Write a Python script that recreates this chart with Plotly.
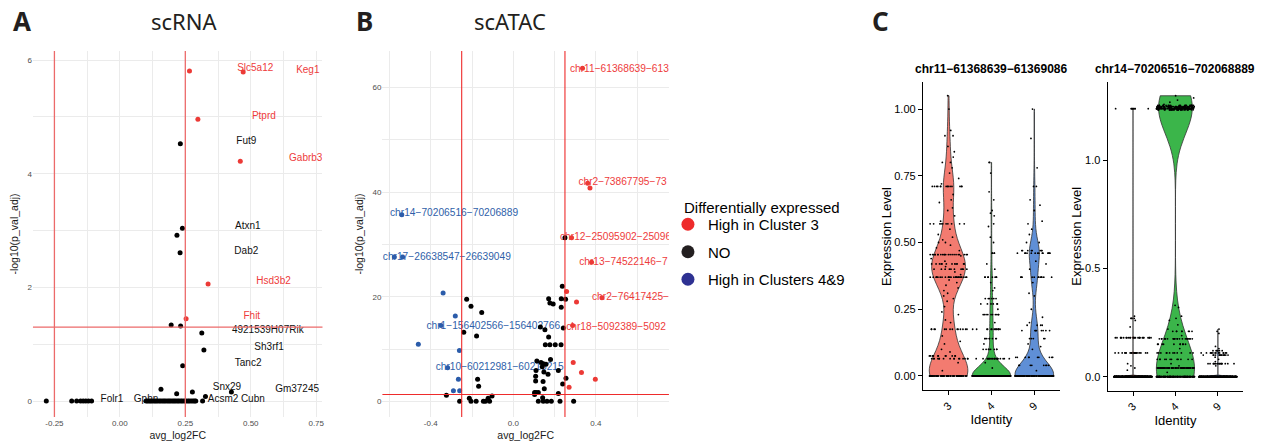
import numpy as np
import plotly.graph_objects as go

W, H = 1264, 446
def PX(px): return px / W
def PY(py): return 1 - py / H

# ---------------- Panel A (scRNA volcano) ----------------
A_UP_X = [0.266, 0.471, 0.298, 0.460, 0.337, 0.253]
A_UP_Y = [5.81, 5.79, 4.96, 4.22, 2.06, 1.45]
A_NO_X = [0.231, 0.239, 0.218, 0.230, 0.196, 0.232, 0.313, 0.321, 0.240, 0.157, 0.217, 0.277,
          0.327, 0.426, -0.281, -0.184, -0.165, -0.150, -0.140, -0.130, -0.120, -0.108,
          0.100, 0.106, 0.112, 0.118, 0.124, 0.131, 0.137, 0.143, 0.150, 0.156, 0.163, 0.169,
          0.175, 0.182, 0.188, 0.194, 0.201, 0.207, 0.213, 0.220, 0.226, 0.233, 0.239, 0.246,
          0.252, 0.259, 0.265, 0.272, 0.279, 0.285, 0.290, 0.316]
A_NO_Y = [4.53, 3.04, 2.92, 2.61, 1.34, 1.32, 1.20, 0.90, 0.62, 0.21, 0.13, 0.16,
          0.08, 0.16, 0, 0, 0, 0, 0, 0, 0, 0,
          0, 0, 0, 0, 0, 0, 0, 0, 0, 0, 0, 0,
          0, 0, 0, 0, 0, 0, 0, 0, 0, 0, 0, 0,
          0, 0, 0, 0, 0, 0, 0, 0]
A_LAB_TEXT = ["Slc5a12", "Keg1", "Ptprd", "Fut9", "Gabrb3", "Atxn1", "Dab2", "Hsd3b2", "Fhit",
              "4921539H07Rik", "Sh3rf1", "Tanc2", "Snx29", "Gm37245", "Folr1", "Gphn", "Acsm2", "Cubn"]
A_LAB_X = [0.517, 0.718, 0.550, 0.483, 0.710, 0.489, 0.483, 0.587, 0.504,
           0.565, 0.570, 0.490, 0.409, 0.677, -0.030, 0.100, 0.394, 0.508]
A_LAB_Y = [5.86, 5.82, 5.00, 4.57, 4.27, 3.08, 2.64, 2.10, 1.49,
           1.24, 0.95, 0.66, 0.24, 0.20, 0.035, 0.035, 0.035, 0.035]
A_LAB_UP = [1, 1, 1, 0, 1, 0, 0, 1, 1, 0, 0, 0, 0, 0, 0, 0, 0, 0]
A_XTICKS = [-0.25, 0.0, 0.25, 0.5, 0.75]
A_XTICKTEXT = ["-0.25", "0.00", "0.25", "0.50", "0.75"]
A_YTICKS = [0, 2, 4, 6]

FC_CUT = 0.25
P_CUT = 1.30

# ---------------- Panel B (scATAC volcano) ----------------
B_UP_X = [0.335, 0.360, 0.371, 0.282, 0.379, 0.429, 0.287, 0.258, 0.306, 0.290, 0.330, 0.397, 0.270]
B_UP_Y = [63.7, 41.7, 40.8, 31.3, 26.6, 19.8, 14.5, 21.0, 19.0, 7.4, 5.5, 4.2, 2.7]
B_DN_X = [-0.540, -0.576, -0.536, -0.340, -0.281, -0.350, -0.460, -0.261, -0.318, -0.266, -0.290, -0.260]
B_DN_Y = [35.7, 27.6, 27.6, 20.7, 16.3, 14.5, 10.9, 9.7, 6.4, 4.2, 2.0, 2.0]
B_NO_X = [-0.324, -0.226, -0.205, -0.153, -0.240, -0.178, -0.173, -0.168,
          -0.213, -0.205, -0.260, -0.180, -0.145, -0.135, -0.122, -0.115, -0.103,
          0.237, 0.250, 0.171, 0.232, 0.253, 0.177, 0.193, 0.232, 0.131, 0.153, 0.242,
          0.171, 0.155, 0.177, 0.203, 0.231, 0.114, 0.134, 0.145, 0.158, 0.180,
          0.110, 0.140, 0.148, 0.168, 0.218, 0.108, 0.108, 0.144, 0.255, 0.239, 0.150,
          0.103, 0.110, 0.121, 0.103, 0.218, 0.121, 0.142, 0.145, 0.163, 0.184, 0.226, 0.292]
B_NO_Y = [1.15, 19.5, 18.2, 17.0, 13.2, 12.5, 4.2, 2.9,
          0.6, 0.0, 0.0, 0.0, 0.0, 0.0, 0.6, 0.0, 1.0,
          22.0, 31.3, 19.6, 19.6, 19.5, 18.8, 18.6, 18.0, 14.2, 13.7, 14.0,
          12.3, 10.8, 10.8, 10.8, 10.8, 7.7, 7.4, 7.2, 7.1, 8.0,
          5.9, 6.6, 5.6, 5.2, 5.9, 4.8, 3.9, 3.8, 4.4, 3.3, 2.4,
          1.7, 1.7, 1.7, 1.3, 1.5, 0.0, 0.7, 0.0, 0.0, 0.0, 0.0, 0.0]
# labels as visible in the figure (those at the right edge are cut by the panel)
B_LAB_TEXT = ["chr11−61368639−613", "chr2−73867795−73", "chr14−70206516−70206889",
              "chr12−25095902−25096", "chr17−26638547−26639049", "chr13−74522146−7",
              "chr2−76417425−", "chr1−156402566−156402766", "chr18−5092389−5092",
              "chr10−60212981−60213215"]
B_LAB_X = [0.274, 0.315, -0.597, 0.226, -0.632, 0.319, 0.381, -0.421, 0.256, -0.376]
B_LAB_Y = [63.5, 41.8, 35.9, 31.3, 27.6, 26.6, 19.8, 14.4, 14.2, 6.4]
B_LAB_UP = [1, 1, 0, 1, 0, 1, 1, 0, 1, 0]
B_XTICKS = [-0.4, 0.0, 0.4]
B_XTICKTEXT = ["-0.4", "0.0", "0.4"]
B_YTICKS = [0, 20, 40, 60]

LEGEND_TITLE = "Differentially expressed"
LEGEND_NAMES = ["High in Cluster 3", "NO", "High in Clusters 4&9"]

# ---------------- Panel C (violins) ----------------
CLUSTERS = ["3", "4", "9"]
C1_TITLE = "chr11−61368639−61369086"
C2_TITLE = "chr14−70206516−702068889"
C_YTITLE = "Expression Level"

C1_C3_LEVELS = [0.00, 0.065, 0.075, 0.175, 0.37, 0.40, 0.42, 0.455, 0.57, 0.71]
C1_C3_COUNTS = [60, 16, 12, 14, 26, 10, 12, 22, 10, 14]
C1_C3_EXTRA = [0.02, 0.05, 0.09, 0.10, 0.12, 0.13, 0.15, 0.20, 0.21, 0.23, 0.24, 0.26, 0.28, 0.29,
               0.30, 0.31, 0.32, 0.33, 0.34, 0.35, 0.36, 0.38, 0.39, 0.41, 0.43, 0.44, 0.45,
               0.47, 0.48, 0.49, 0.50, 0.50, 0.51, 0.52, 0.53, 0.55, 0.58, 0.60, 0.62, 0.63, 0.65,
               0.66, 0.68, 0.72, 0.74, 0.76, 0.78, 0.80, 0.80, 0.82, 0.84, 0.86, 0.90, 0.90, 0.92,
               1.00, 1.05]
C1_C4_LEVELS = [0.00, 0.065, 0.10, 0.14, 0.175, 0.23, 0.27, 0.29, 0.37, 0.46]
C1_C4_COUNTS = [260, 22, 8, 8, 14, 10, 6, 6, 8, 4]
C1_C4_EXTRA = [0.03, 0.05, 0.12, 0.20, 0.25, 0.32, 0.33, 0.35, 0.40, 0.42, 0.50, 0.52, 0.56,
               0.57, 0.60, 0.61, 0.62, 0.66, 0.69, 0.76, 0.80, 0.80]
C1_C9_LEVELS = [0.00, 0.04, 0.07, 0.14, 0.17, 0.19, 0.37, 0.46, 0.47]
C1_C9_COUNTS = [95, 8, 10, 5, 8, 4, 12, 14, 8]
C1_C9_EXTRA = [0.02, 0.10, 0.11, 0.12, 0.20, 0.22, 0.25, 0.30, 0.31, 0.35, 0.40, 0.42, 0.43,
               0.50, 0.50, 0.53, 0.55, 0.57, 0.58, 0.62, 0.64, 0.66, 0.71, 0.71, 0.78, 0.89, 1.00]

C2_C3_LEVELS = [0.00, 0.11, 0.18, 0.27, 1.24]
C2_C3_COUNTS = [420, 22, 26, 4, 9]
C2_C3_EXTRA = [0.03, 0.04, 0.05, 0.06, 0.23, 0.26, 0.28]
C2_C4_LEVELS = [0.00, 0.04, 0.08, 0.11, 0.15, 0.175, 0.21, 1.235, 1.24, 1.245, 1.25, 1.255]
C2_C4_COUNTS = [130, 60, 12, 12, 10, 22, 8, 30, 60, 40, 50, 20]
C2_C4_EXTRA = [0.02, 0.05, 0.06, 0.13, 0.19, 0.22, 0.24, 0.26, 0.27, 0.28, 0.32, 0.33,
               1.26, 1.27, 1.28, 1.29, 1.30]
C2_C9_LEVELS = [0.00, 0.06, 0.10, 0.11, 0.12]
C2_C9_COUNTS = [330, 16, 14, 14, 6]
C2_C9_EXTRA = [0.05, 0.07, 0.08, 0.09, 0.13, 0.14, 0.20, 0.21, 0.22]

C1_BW = [0.058, 0.035, 0.045]
C2_BW = [0.003, 0.12, 0.003]
C1_YTICKS = [0.0, 0.25, 0.5, 0.75, 1.0]
C1_YTICKTEXT = ["0.00", "0.25", "0.50", "0.75", "1.00"]
C2_YTICKS = [0.0, 0.5, 1.0]
C2_YTICKTEXT = ["0.0", "0.5", "1.0"]

def expand(levels, counts, extra):
    return list(np.repeat(levels, counts)) + list(extra)

C1_DATA = [expand(C1_C3_LEVELS, C1_C3_COUNTS, C1_C3_EXTRA),
           expand(C1_C4_LEVELS, C1_C4_COUNTS, C1_C4_EXTRA),
           expand(C1_C9_LEVELS, C1_C9_COUNTS, C1_C9_EXTRA)]
C2_DATA = [expand(C2_C3_LEVELS, C2_C3_COUNTS, C2_C3_EXTRA),
           expand(C2_C4_LEVELS, C2_C4_COUNTS, C2_C4_EXTRA),
           expand(C2_C9_LEVELS, C2_C9_COUNTS, C2_C9_EXTRA)]

# ---------------- styles ----------------
RED = "#EC3A36"
RED_TXT = "#EE3B3B"
BLUE = "#2B5CAA"
BLUE_TXT = "#2F5FA9"
VCOL = ["#F37B70", "#3BB54A", "#5F8FD6"]
SANS = "Liberation Sans, Arial, sans-serif"
TITLEF = "Noto Sans, sans-serif"

fig = go.Figure()

# Panel A labels (drawn under points)
fig.add_trace(go.Scatter(
    x=A_LAB_X, y=A_LAB_Y, text=A_LAB_TEXT, mode="text", textposition="middle center",
    textfont=dict(family=SANS, size=10, color=[RED_TXT if u else "#111111" for u in A_LAB_UP]),
    xaxis="x", yaxis="y", showlegend=False, hoverinfo="skip"))
fig.add_trace(go.Scatter(x=A_NO_X, y=A_NO_Y, mode="markers", marker=dict(size=5, color="black"),
                         xaxis="x", yaxis="y", showlegend=False))
fig.add_trace(go.Scatter(x=A_UP_X, y=A_UP_Y, mode="markers", marker=dict(size=5, color=RED),
                         xaxis="x", yaxis="y", showlegend=False))

# Panel B labels
fig.add_trace(go.Scatter(
    x=B_LAB_X, y=B_LAB_Y, text=B_LAB_TEXT, mode="text", textposition="middle right",
    textfont=dict(family=SANS, size=10.2, color=[RED_TXT if u else BLUE_TXT for u in B_LAB_UP]),
    xaxis="x2", yaxis="y2", showlegend=False, hoverinfo="skip"))
fig.add_trace(go.Scatter(x=B_NO_X, y=B_NO_Y, mode="markers", marker=dict(size=5, color="black"),
                         xaxis="x2", yaxis="y2", showlegend=False))
fig.add_trace(go.Scatter(x=B_UP_X, y=B_UP_Y, mode="markers", marker=dict(size=5, color=RED),
                         xaxis="x2", yaxis="y2", showlegend=False))
fig.add_trace(go.Scatter(x=B_DN_X, y=B_DN_Y, mode="markers", marker=dict(size=5, color=BLUE),
                         xaxis="x2", yaxis="y2", showlegend=False))

# legend entries
for i, (name, col) in enumerate(zip(LEGEND_NAMES, ["#EE2B2B", "#231F20", "#2E3192"])):
    fig.add_trace(go.Scatter(x=[None], y=[None], mode="markers", name=name, legendgroup="g%d" % i,
                             marker=dict(size=13, color=col), xaxis="x2", yaxis="y2"))

# Panel C violins: outlines first, then jittered cell points on top
for data_list, bws, xa, ya in [(C1_DATA, C1_BW, "x3", "y3"), (C2_DATA, C2_BW, "x4", "y4")]:
    for cl, vals, bw, col in zip(CLUSTERS, data_list, bws, VCOL):
        fig.add_trace(go.Violin(
            x=[cl] * len(vals), y=vals, xaxis=xa, yaxis=ya,
            fillcolor=col, line=dict(color="#333333", width=0.8), opacity=1,
            points=False, width=0.9, spanmode="hard", scalemode="width", bandwidth=bw,
            box_visible=False, meanline_visible=False, showlegend=False, hoverinfo="skip"))
for data_list, xa, ya in [(C1_DATA, "x3", "y3"), (C2_DATA, "x4", "y4")]:
    for cl, vals in zip(CLUSTERS, data_list):
        fig.add_trace(go.Violin(
            x=[cl] * len(vals), y=vals, xaxis=xa, yaxis=ya,
            fillcolor="rgba(0,0,0,0)", line=dict(color="rgba(0,0,0,0)", width=0),
            points="all", jitter=1, pointpos=0,
            marker=dict(size=1.8, color="black", line=dict(width=0)),
            width=0.9, spanmode="hard", scalemode="width", bandwidth=20,
            box_visible=False, meanline_visible=False, showlegend=False, hoverinfo="skip"))

grid = "#EBEBEB"
tickf = dict(family=SANS, size=8, color="#4D4D4D")
axtitle = dict(family=SANS, size=10.5, color="#1A1A1A")

def volcano_axes(xdom, xrange, xticks, xtext, xminor, yrange, yticks, yminor):
    xa = dict(domain=xdom, range=xrange, tickmode="array", tickvals=xticks, ticktext=xtext,
              showgrid=True, gridcolor=grid, gridwidth=1, zeroline=False, showline=False,
              ticks="", tickfont=tickf,
              minor=dict(dtick=xminor, tick0=0, showgrid=True, gridcolor=grid, gridwidth=0.6),
              title=dict(text="avg_log2FC", font=axtitle, standoff=4))
    ya = dict(domain=[PY(417), PY(51)], range=yrange, tickmode="array", tickvals=yticks,
              showgrid=True, gridcolor=grid, gridwidth=1, zeroline=False, showline=False,
              ticks="", tickfont=tickf,
              minor=dict(dtick=yminor, tick0=0, showgrid=True, gridcolor=grid, gridwidth=0.6),
              title=dict(text="-log10(p_val_adj)", font=axtitle, standoff=6))
    return xa, ya

xa1, ya1 = volcano_axes([PX(33), PX(323)], [-0.332, 0.774], A_XTICKS, A_XTICKTEXT, 0.125,
                        [-0.28, 6.16], A_YTICKS, 1)
xa2, ya2 = volcano_axes([PX(383), PX(670)], [-0.634, 0.7535], B_XTICKS, B_XTICKTEXT, 0.2,
                        [-3.0, 67.0], B_YTICKS, 10)

cfont = dict(family=SANS, size=11, color="black")
ctitle = dict(family=SANS, size=13, color="black")

def violin_axes(xdom, ydom, yrange, yticks, ytext):
    xa = dict(domain=xdom, type="category", categoryorder="array", categoryarray=CLUSTERS,
              range=[-0.6, 2.6], showline=True, linecolor="black", linewidth=1, ticks="outside",
              ticklen=4, tickcolor="black", tickangle=-45, tickfont=cfont, showgrid=False,
              zeroline=False, title=dict(text="Identity", font=ctitle, standoff=0))
    ya = dict(domain=ydom, range=yrange, tickmode="array", tickvals=yticks, ticktext=ytext,
              showline=True, linecolor="black", linewidth=1, ticks="outside", ticklen=4,
              tickcolor="black", tickfont=cfont, showgrid=False, zeroline=False)
    return xa, ya

xa3, ya3 = violin_axes([PX(924.3), PX(1061.7)], [PY(390), PY(81.7)], [-0.0525, 1.1025],
                       C1_YTICKS, C1_YTICKTEXT)
xa4, ya4 = violin_axes([PX(1109.3), PX(1245.3)], [PY(390.7), PY(81.7)], [-0.065, 1.365],
                       C2_YTICKS, C2_YTICKTEXT)
xa2["anchor"] = "y2"; ya2["anchor"] = "x2"
xa3["anchor"] = "y3"; ya3["anchor"] = "x3"
xa4["anchor"] = "y4"; ya4["anchor"] = "x4"

shapes = []
for xr, yr, lc, lw in [("x", "y", "#EC6A6A", 1.3), ("x2", "y2", "#EE2B2B", 1.1)]:
    for v in (-FC_CUT, FC_CUT):
        shapes.append(dict(type="line", xref=xr, yref=yr + " domain", x0=v, x1=v, y0=0, y1=1,
                           line=dict(color=lc, width=lw), layer="above"))
    shapes.append(dict(type="line", xref=xr + " domain", yref=yr, x0=0, x1=1, y0=P_CUT, y1=P_CUT,
                       line=dict(color=lc, width=lw), layer="above"))

def ann(text, px, py, size, family=TITLEF, xanchor="center", angle=0, color="#231F20"):
    return dict(text=text, x=PX(px), y=PY(py), xref="paper", yref="paper", showarrow=False,
                xanchor=xanchor, yanchor="middle", textangle=angle,
                font=dict(family=family, size=size, color=color))

annotations = [
    ann("<b>A</b>", 22, 21, 26), ann("<b>B</b>", 365, 21, 26), ann("<b>C</b>", 882, 21, 26),
    ann("scRNA", 185, 21, 22), ann("scATAC", 511, 21, 22),
    ann("<b>" + C1_TITLE + "</b>", 993, 69, 12, SANS, color="black"),
    ann("<b>" + C2_TITLE + "</b>", 1177, 69, 12, SANS, color="black"),
    ann(C_YTITLE, 888, 236.5, 13, SANS, angle=-90, color="black"),
    ann(C_YTITLE, 1078, 236.5, 13, SANS, angle=-90, color="black"),
    ann(LEGEND_TITLE, 683, 207, 15, SANS, "left", color="black"),
]

fig.update_layout(
    width=W, height=H, margin=dict(l=0, r=0, t=0, b=0),
    paper_bgcolor="white", plot_bgcolor="white",
    xaxis=xa1, yaxis=ya1, xaxis2=xa2, yaxis2=ya2, xaxis3=xa3, yaxis3=ya3, xaxis4=xa4, yaxis4=ya4,
    shapes=shapes, annotations=annotations,
    violinmode="overlay",
    legend=dict(x=PX(669), y=PY(208), xanchor="left", yanchor="top",
                font=dict(family=SANS, size=15, color="black"), bgcolor="rgba(0,0,0,0)",
                itemsizing="trace", tracegroupgap=5),
    font=dict(family=SANS),
)

fig.write_html("out.html", config={"displayModeBar": False},
               post_script="document.body.style.margin='0';")
